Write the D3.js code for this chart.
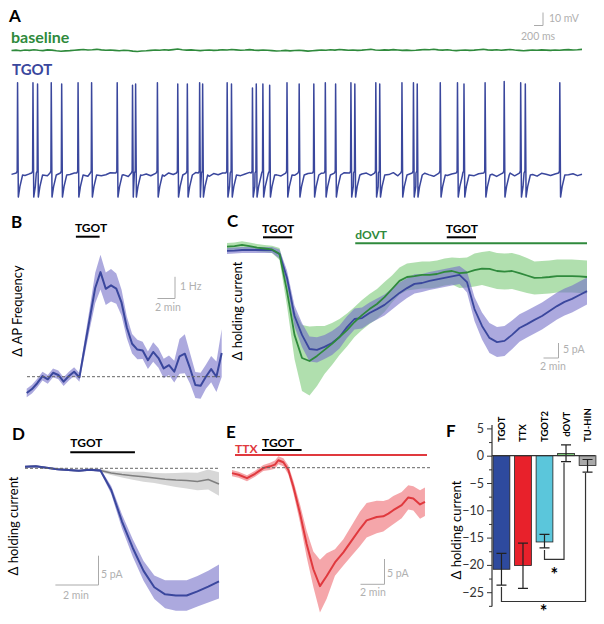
<!DOCTYPE html>
<html><head><meta charset="utf-8">
<script src="https://cdn.jsdelivr.net/npm/d3@7"></script>
<style>
body{margin:0;background:#fff}
svg{display:block;font-family:Lato,"Open Sans",sans-serif}
</style>
</head><body>
<svg id="c" width="604" height="624"></svg>
<script>
// ---------------- DATA ----------------
// Panel A: membrane potential traces (mV), sampled every 0.1 s
const baselineTrace = [0.0,0.3,-0.2,0.4,0.1,0.6,0.2,-0.1,0.5,0.3,
-0.2,-0.6,-0.3,-0.1,0.2,0.5,0.8,0.4,0.6,0.9,
0.5,0.2,0.4,0.1,-0.2,0.2,0.0,-0.5,-0.8,-0.4,
-0.2,0.1,0.4,0.2,0.6,0.3,0.7,1.1,0.6,0.3,
0.5,0.2,-0.1,0.2,0.4,0.1,0.3,0.6,0.4,0.8,
0.5,0.2,0.4,0.7,0.3,0.1,0.4,0.2,-0.1,-0.4,
-0.2,0.1,-0.3,0.0,0.2,-0.1,-0.5,-0.2,0.1,0.4,
0.2,0.6,0.3,0.8,0.5,0.2,0.4,0.1,0.3,0.6,
0.9,0.4,0.2,0.5,0.3,0.7,0.4,0.1,0.3,0.0,
0.2,0.5,0.8,0.6,1.0,0.5,0.3,0.6,0.2,-0.1,
0.2,0.4,0.1,0.3,0.6,0.9,0.5,0.3,0.6,0.2,
0.5,0.8,0.4,0.1,-0.2,0.1,0.4,0.2,0.5,0.3,
0.1,0.4,0.2,0.5,0.7,0.4,0.6,0.9];
const tgotTrace = [0.5,-0.8,1.6,-0.4,0.9,-1.2,0.3,1.8,-0.6,0.7,
-0.3,1.1,-0.9,0.4,1.5,-0.2,0.8,-1.0,0.6,1.3,
-0.5,0.2,1.7,-0.7,0.9,0.1,-1.1,0.6,1.4,-0.3,
0.8,-0.6,1.2,0.3,-0.9,1.6,0.4,-0.2,1.0,-0.8,
0.5,1.9,-0.4,0.7,-1.0,1.1,0.2,1.5,-0.6,0.3,
1.2,-0.5,0.8,2.0,-0.3,1.0,0.4,-0.9,1.3,0.1,
-0.7,0.9,1.6,-0.2,0.5,-1.1,1.2,0.3,-0.4,1.4,
0.6,-0.8,1.0,0.2,1.7,-0.5,0.4,-1.0,0.8,1.5,
-0.3,0.7,-0.9,1.1,0.3,1.8,-0.6,0.5,-0.2,1.2,
0.9,-0.7,1.4,0.1,-1.0,0.6,1.6,-0.4,0.8,0.2,
-0.8,1.3,0.4,-0.5,1.0,1.9,-0.3,0.6,-1.1,0.9,
0.3,1.5,-0.6,0.7,-0.2,1.1,0.4,-0.9,1.3,0.5,
-0.4,0.8,1.6,-0.7,0.2,1.0,-0.5,0.6];
const traceStep = 0.1; // s
const spikeTimes = [0.127,0.47,0.572,0.877,1.109,1.474,1.775,2.345,2.686,2.755,
3.24,3.693,3.906,4.18,4.247,4.793,4.889,5.356,5.441,5.588,5.739,6.125,6.396,
6.722,6.978,7.207,7.548,7.635,8.102,8.189,8.684,8.94,9.024,9.537,9.92,10.065,
10.535,10.96,11.327,11.43,12.198];
const spikePeaks = [71,71,70,71,70,71,71,71,69,70,
71,70,70,71,70,71,70,67,70,70,69,71,70,
70,71,70,71,70,71,70,71,71,70,71,71,70,
71,72,71,70,71];
const spikeShape = [[-0.02,1.5],[0,3],[0.008,null],[0.025,-17],[0.06,-9],[0.12,0]]; // s, mV

// Panel B: AP frequency change (Hz), 0.6-min bins
const bStep = 0.6;
const bFreq = [-0.75,-0.57,-0.30,0.03,-0.12,0.18,0.08,-0.23,0.03,0.23,-0.03,1.36,2.73,4.09,4.82,
4.05,4.21,4.06,3.41,2.27,1.52,1.25,1.21,0.76,1.14,0.86,0.38,0.53,0.23,0.94,1.06,0.38,-0.38,-0.42,0,0.35,0,1.09];
const bSem = [0.2,0.2,0.2,0.2,0.2,0.2,0.2,0.2,0.2,0.2,0.2,0.35,0.5,0.7,0.8,0.75,0.75,0.7,0.6,0.5,0.45,0.45,
0.4,0.4,0.45,0.45,0.45,0.45,0.5,0.8,0.9,0.7,0.6,0.6,0.55,0.6,0.7,1.1];
const bDrug = [5.6, 8.3];

// Panel C: holding current (pA), 1-min bins
const cBlue = [-0.3,-0.2,0,0,0,0,0,-1.3,-9.3,-22,-28.3,-33,-33.3,-32.3,-31,-29,-25.7,-23,-22.7,-21,
-19.7,-18.3,-16.3,-14.3,-12.7,-11.3,-11,-10.3,-9.8,-9.3,-8.8,-8.3,-10.7,-19.7,-25.3,-29.3,-30.7,-30.3,
-28.3,-26,-24.7,-23.3,-22,-20.3,-18.7,-17.3,-16.3,-15,-13.7];
const cBlueSem = [1,1,1,1,1,1,1,1.5,2.5,3.5,4,4.2,4.2,4,4,3.8,3.6,3.5,3.5,3.5,3.5,3.5,3.5,3.5,3.3,3.2,
3,3,3,3,3,3,3.5,4,4.5,5,5,5,4.8,4.6,4.5,4.5,4.5,4.5,4.5,4.5,4.5,4.5,4.5];
const cGreen = [1.1,1.3,1.7,1.3,0.8,0.5,0.2,-1.3,-13.7,-28.3,-36,-37,-35.3,-33.3,-31.3,-29,-26.7,-24,
-21.7,-19.7,-18,-15.7,-13,-10.3,-9,-8.7,-8.3,-8.3,-8,-7.3,-7,-7.7,-7.5,-6.7,-6.2,-6.3,-7,-7.2,-7,-7.7,
-8.5,-9.3,-9.2,-9,-8.7,-8.7,-8.7,-8.8,-9];
const cGreenSem = [1.2,1.2,1.2,1.2,1.2,1.2,1.2,2,5,8,11,11.5,10,8,7,6,5.5,5,5,5,5,5,4.5,4.5,4.5,4.5,4.5,
4.5,4.5,4.5,4.5,5,5,5.5,5.5,6,6,6,6,6,5.8,5.5,5.5,5.5,5.5,5.5,5.5,5.5,5.5];
const cTgot1 = [4.8, 8.7], cTgot2 = [29.3, 33.2], cDovt = [17.1, 48];

// Panel D: holding current (pA), 0.5-min bins
const dStep = 0.5;
const dTgot = [0.27,0.36,0.09,-0.15,-0.29,-0.41,-0.24,-0.38,-3.7,-9.08,-13.6,-17.5,-20.3,-21.5,-21.7,-21.7,-21.0,-20.2,-19.3];
const dTgotSem = [0.17,0.17,0.17,0.17,0.17,0.17,0.17,0.26,0.7,1.2,1.5,1.7,2.0,2.4,2.6,2.6,2.6,2.7,2.9];
const dCtrl = [0.27,0.36,0.09,-0.15,-0.29,-0.41,-0.24,-0.38,-0.8,-1.06,-1.26,-1.45,-1.66,-1.86,-2.0,-2.08,-2.25,-1.91,-2.68];
const dCtrlSem = [0.17,0.17,0.17,0.17,0.17,0.17,0.17,0.26,0.34,0.5,0.68,0.85,0.85,1.0,1.2,1.35,1.5,1.7,2.0];
const dDrug = [2.1, 5.1];

// Panel E: holding current in TTX (pA)
const eTime = [0,0.55,1.25,1.92,2.61,3.17,3.58,3.86,4.28,4.69,5.11,5.67,6.22,6.78,7.33,7.89,8.58,9.28,
9.97,10.67,11.22,12.06,12.61,13.03,13.44,14.14,14.69,15.11,15.67,16.08];
const eTtx = [-1.07,-1.4,-2.07,-1.2,-0.07,0.27,0.6,1.47,1.07,-0.4,-3.73,-9.07,-15.07,-20.07,-23.4,-21.4,
-18.73,-16.73,-14.4,-12.07,-10.4,-9.73,-9.6,-9.07,-8.4,-7.4,-5.87,-6.07,-7.27,-6.73];
const eSem = [0.6,0.6,0.6,0.6,0.6,0.7,0.8,0.8,0.8,0.9,1.2,1.8,2.6,3.5,5.2,4.5,2.6,2.6,3,3.4,3.4,3.2,3,
2.8,2.8,2.6,2.4,2.4,2.8,2.8];
const eTtxBar = [0.25, 16.25], eTgotBar = [2.5, 5.8];

// Panel F: summary bars
const fCats = ["TGOT","TTX","TGOT2","dOVT","TU-HIN"];
const fMean = [-20.8,-20.1,-15.8,0.4,-1.8];
const fErrHi = [-17.9,-16.0,-14.4,2.0,-0.7];
const fErrLo = [-23.7,-24.3,-16.9,-1.1,-3.0];
const fTicks = [5,0,-5,-10,-15,-20,-25];
const fMinorTicks = [2.5,-2.5,-7.5,-12.5,-17.5,-22.5,-27.5];
const fSig = [["TGOT2","dOVT",-19.0],["TGOT","TU-HIN",-26.7]];

// ---------------- STYLE ----------------
const BLUE="#3a479d", BLUEBAND="#7570c8", GREEN="#2f8a3c", GREENBAND="#7cc978",
      RED="#e0393e", REDBAND="#ee6a72", GRAY="#7f7f7f", GRAYBAND="#bdbdbd", SB="#aaaaaa";
const fColors = ["#2e4a9e","#e8212b","#5bc6db","#7cc978","#a9a9a9"];

const svg = d3.select("#c");
svg.append("rect").attr("width",604).attr("height",624).attr("fill","#fff");

function label(t,x,y,opt={}){
  const e = svg.append("text").attr("x",x).attr("y",y).text(t)
    .attr("font-size",opt.size||12).attr("font-weight",opt.bold?"bold":"normal")
    .attr("fill",opt.color||"#000");
  if(opt.anchor) e.attr("text-anchor",opt.anchor);
  if(opt.rotate) e.attr("transform",`rotate(-90,${x},${y})`);
  return e;
}
function hline(x1,x2,y,color,w,dash){
  const l=svg.append("line").attr("x1",x1).attr("x2",x2).attr("y1",y).attr("y2",y)
    .attr("stroke",color).attr("stroke-width",w);
  if(dash) l.attr("stroke-dasharray",dash);
}
function scaleBar(xs,ys,tv,vv,tlabel,vlabel,x0,y0){
  // x0,y0 = corner (bottom-right)
  const w = xs(tv)-xs(0), h = ys(0)-ys(vv);
  svg.append("path").attr("d",`M${x0-w},${y0}H${x0}V${y0-h}`).attr("fill","none")
    .attr("stroke",SB).attr("stroke-width",1);
  return {w,h};
}
function band(g,xf,vals,sems,ys,fill,op){
  g.append("path").datum(vals.map((v,i)=>[xf(i),v,sems[i]]))
   .attr("d",d3.area().x(d=>d[0]).y0(d=>ys(d[1]-d[2])).y1(d=>ys(d[1]+d[2])))
   .attr("fill",fill).attr("fill-opacity",op);
}
function trace(g,xf,vals,ys,color,w){
  g.append("path").datum(vals.map((v,i)=>[xf(i),v]))
   .attr("d",d3.line().x(d=>d[0]).y(d=>ys(d[1])))
   .attr("fill","none").attr("stroke",color).attr("stroke-width",w).attr("stroke-linejoin","round");
}

// ---------------- PANEL A ----------------
label("A",9,22,{size:17,bold:true});
label("baseline",11,43,{size:16,bold:true,color:GREEN});
label("TGOT",12,75,{size:15,bold:true,color:BLUE});
const ax = d3.scaleLinear().domain([0,12.7]).range([11.5,582]);
const ayG = d3.scaleLinear().domain([0,10]).range([50.5,37.5]);
const ayB = d3.scaleLinear().domain([0,10]).range([175,162]);
svg.append("path").datum(baselineTrace.map((v,i)=>[i*traceStep,v]))
  .attr("d",d3.line().x(d=>ax(d[0])).y(d=>ayG(d[1])))
  .attr("fill","none").attr("stroke",GREEN).attr("stroke-width",1.6);
{
  const wins = spikeTimes.map((t,i)=>[t+spikeShape[0][0], Math.min(t+0.12, i<spikeTimes.length-1? spikeTimes[i+1]-0.021 : 1e9)]);
  const pts=[];
  tgotTrace.forEach((v,i)=>{const t=i*traceStep; if(!wins.some(w=>t>=w[0]-0.03&&t<=w[1]+0.02)) pts.push([t,v]);});
  spikeTimes.forEach((ts,i)=>{
    spikeShape.forEach(([dt,mv],k)=>{
      const t=ts+dt; if(t<=wins[i][1]+1e-6) pts.push([t, mv===null? spikePeaks[i] : mv]);
    });
  });
  pts.sort((a,b)=>a[0]-b[0]);
  svg.append("path").datum(pts)
    .attr("d",d3.line().x(d=>ax(d[0])).y(d=>ayB(d[1])))
    .attr("fill","none").attr("stroke",BLUE).attr("stroke-width",1.5).attr("stroke-linejoin","round");
}
scaleBar(ax,ayB,0.2,10,"","",543,25.5);
label("10 mV",549,22,{size:10.5,color:"#b0b0b0"});
label("200 ms",521,40,{size:10.5,color:"#b0b0b0"});

// ---------------- PANEL B ----------------
label("B",11,228,{size:17,bold:true});
const bx = d3.scaleLinear().domain([0,(bFreq.length-1)*bStep]).range([26.7,221.7]);
const by = d3.scaleLinear().domain([0,1]).range([376.7,355]);
const gB = svg.append("g");
band(gB,i=>bx(i*bStep),bFreq,bSem,by,BLUEBAND,0.6);
hline(27,222,by(0),"#666",1,"3,2");
trace(gB,i=>bx(i*bStep),bFreq,by,BLUE,2);
hline(bx(bDrug[0]),bx(bDrug[1]),236.7,"#000",2);
label("TGOT",bx(bDrug[0])-1,232,{size:12,bold:true});
label("Δ AP Frequency",22,311,{size:13,anchor:"middle",rotate:true});
scaleBar(bx,by,2,1,"","",175,298.5);
label("1 Hz",180,290,{size:10.5,color:"#b0b0b0"});
label("2 min",155,311,{size:10.5,color:"#b0b0b0"});

// ---------------- PANEL C ----------------
label("C",227,227,{size:17,bold:true});
const cx = d3.scaleLinear().domain([0,48]).range([227,587]);
const cy = d3.scaleLinear().domain([0,5]).range([250,235]);
const gC = svg.append("g");
band(gC,i=>cx(i),cGreen,cGreenSem,cy,GREENBAND,0.6);
band(gC,i=>cx(i),cBlue,cBlueSem,cy,BLUEBAND,0.6);
trace(gC,i=>cx(i),cBlue,cy,BLUE,1.8);
trace(gC,i=>cx(i),cGreen,cy,GREEN,1.8);
hline(cx(cTgot1[0]),cx(cTgot1[1]),237.3,"#000",2);
label("TGOT",cx(cTgot1[0])-1,233,{size:12,bold:true});
hline(cx(cTgot2[0]),cx(cTgot2[1]),237.3,"#000",2);
label("TGOT",cx(cTgot2[0])-1,233,{size:12,bold:true});
hline(cx(cDovt[0]),cx(cDovt[1]),243.3,GREEN,2);
label("dOVT",cx(cDovt[0]),238.5,{size:12,bold:true,color:GREEN});
label("Δ holding current",242,311,{size:13,anchor:"middle",rotate:true});
scaleBar(cx,cy,2,5,"","",558.5,358);
label("5 pA",563,353,{size:10.5,color:"#b0b0b0"});
label("2 min",540,370,{size:10.5,color:"#b0b0b0"});

// ---------------- PANEL D ----------------
label("D",12,440,{size:17,bold:true});
const dx = d3.scaleLinear().domain([0,(dTgot.length-1)*dStep]).range([25,219]);
const dy = d3.scaleLinear().domain([0,5]).range([468.3,439]);
const gD = svg.append("g");
band(gD,i=>dx(i*dStep),dCtrl,dCtrlSem,dy,GRAYBAND,0.6);
band(gD,i=>dx(i*dStep),dTgot,dTgotSem,dy,BLUEBAND,0.6);
hline(25,220,dy(0),"#666",1,"3,2");
trace(gD,i=>dx(i*dStep),dCtrl,dy,GRAY,1.5);
trace(gD,i=>dx(i*dStep),dTgot,dy,BLUE,2);
hline(dx(dDrug[0]),dx(dDrug[1]),452.3,"#000",2);
label("TGOT",dx(dDrug[0]),446.5,{size:12,bold:true});
label("Δ holding current",18,526,{size:13,anchor:"middle",rotate:true});
scaleBar(dx,dy,2,5,"","",98.5,585);
label("5 pA",101,578,{size:10.5,color:"#b0b0b0"});
label("2 min",63,599,{size:10.5,color:"#b0b0b0"});

// ---------------- PANEL E ----------------
label("E",226,438,{size:17,bold:true});
const ex = d3.scaleLinear().domain([0,16.25]).range([232,427]);
const ey = d3.scaleLinear().domain([0,5]).range([467.7,442.4]);
const gE = svg.append("g");
gE.append("path").datum(eTime.map((t,i)=>[t,eTtx[i],eSem[i]]))
  .attr("d",d3.area().x(d=>ex(d[0])).y0(d=>ey(d[1]-d[2])).y1(d=>ey(d[1]+d[2])))
  .attr("fill",REDBAND).attr("fill-opacity",0.6);
hline(232,432,ey(0),"#666",1,"3,2");
gE.append("path").datum(eTime.map((t,i)=>[t,eTtx[i]]))
  .attr("d",d3.line().x(d=>ex(d[0])).y(d=>ey(d[1])))
  .attr("fill","none").attr("stroke",RED).attr("stroke-width",2).attr("stroke-linejoin","round");
hline(ex(eTtxBar[0]),ex(eTtxBar[1]),455,RED,2);
label("TTX",ex(eTtxBar[0]),453,{size:12,bold:true,color:RED});
hline(ex(eTgotBar[0]),ex(eTgotBar[1]),450,"#000",2);
label("TGOT",ex(eTgotBar[0]),446.5,{size:12,bold:true});
scaleBar(ex,ey,2,5,"","",384.5,584.3);
label("5 pA",387,577,{size:10.5,color:"#b0b0b0"});
label("2 min",360,596,{size:10.5,color:"#b0b0b0"});

// ---------------- PANEL F ----------------
label("F",446,437,{size:17,bold:true});
const fx = d3.scaleBand().domain(fCats).range([492,597]).paddingInner(0.22).paddingOuter(0.05);
const fy = d3.scaleLinear().domain([0,-25]).range([455.7,592.2]);
const gF = svg.append("g");
fCats.forEach((c,i)=>{
  const x0=fx(c), w=fx.bandwidth();
  const y1=fy(Math.max(0,fMean[i])), y2=fy(Math.min(0,fMean[i]));
  gF.append("rect").attr("x",x0).attr("y",y1).attr("width",w).attr("height",Math.max(0.5,y2-y1))
    .attr("fill",fColors[i]).attr("stroke","#222").attr("stroke-width",0.8);
  const cxm = x0+w/2;
  gF.append("path").attr("d",`M${cxm},${fy(fErrHi[i])}V${fy(fErrLo[i])}M${cxm-5},${fy(fErrHi[i])}H${cxm+5}M${cxm-5},${fy(fErrLo[i])}H${cxm+5}`)
    .attr("stroke","#222").attr("stroke-width",1.2).attr("fill","none");
  const lb = Math.min(442, fy(Math.max(0,fErrHi[i]))-8);
  gF.append("text").attr("transform",`translate(${cxm+3.5},${lb}) rotate(-90)`)
    .attr("font-size",9.5).attr("font-weight","bold").text(c);
});
hline(492,595,fy(0),"#333",1.2);
// axis
const axisG = gF.append("g").attr("transform","translate(492,0)")
  .call(d3.axisLeft(fy).tickValues(fTicks).tickSize(5).tickPadding(3).tickFormat(d3.format("d")));
axisG.select(".domain").remove();
axisG.selectAll("text").attr("font-size",12.5).attr("font-family","Lato,'Open Sans',sans-serif").attr("fill","#333");
axisG.selectAll("line").attr("stroke","#333");
const axisM = gF.append("g").attr("transform","translate(492,0)")
  .call(d3.axisLeft(fy).tickValues(fMinorTicks).tickSize(3).tickFormat(""));
axisM.select(".domain").remove();
axisM.selectAll("line").attr("stroke","#333");
gF.append("line").attr("x1",492).attr("x2",492).attr("y1",fy(5.6)).attr("y2",fy(-27.6))
  .attr("stroke","#333").attr("stroke-width",1.2);
label("Δ holding current",461,530,{size:13,anchor:"middle",rotate:true});
fSig.forEach(([a,b,lvl])=>{
  const ia=fCats.indexOf(a), ib=fCats.indexOf(b);
  const xa=fx(a)+fx.bandwidth()/2, xb=fx(b)+fx.bandwidth()/2-2;
  gF.append("path").attr("d",`M${xa},${fy(fErrLo[ia])+2}V${fy(lvl)}H${xb}V${fy(fErrLo[ib])+1}`)
    .attr("fill","none").attr("stroke","#333").attr("stroke-width",1.2);
  gF.append("text").attr("x",(xa+xb)/2).attr("y",fy(lvl)+(ia===0?17:22)).attr("text-anchor","middle")
    .attr("font-size",18).attr("font-weight","bold").text("*");
});
</script>
</body></html>
